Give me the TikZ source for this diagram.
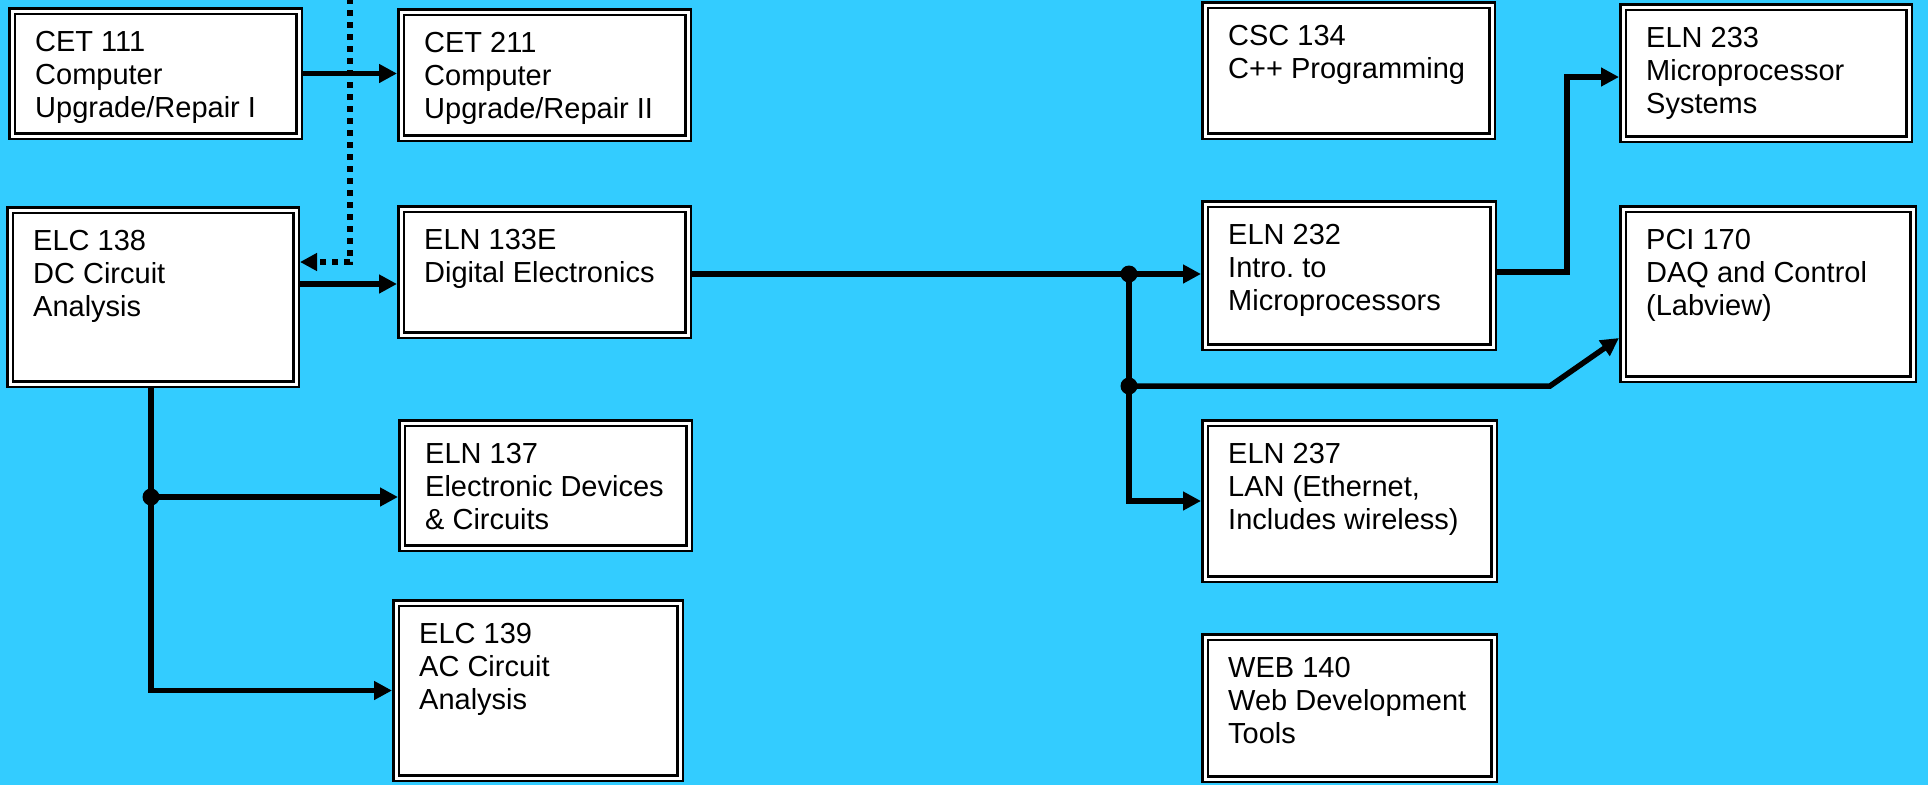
\documentclass[tikz,border=0pt]{standalone}
\usepackage{fontspec}
\setmainfont{Liberation Sans}
\usetikzlibrary{arrows.meta}
\definecolor{bgcyan}{RGB}{51,204,255}
\frenchspacing
\tikzset{
  cbox/.style={draw=black, fill=white, line width=2.5pt, double=white, double distance=3pt, inner sep=0pt, outer sep=4pt},
  ctext/.style={anchor=base west, inner sep=0pt, font=\fontsize{29}{33}\selectfont},
  conn/.style={line width=5.5pt, line join=miter, -{Triangle[length=18pt,width=18pt]}},
  dotline/.style={line width=5.5pt, dash pattern=on 6pt off 6pt, -{Triangle[length=17pt,width=17pt]}},
  junction/.style={fill=black}
}
\newcommand\course[6]{%
  \node[cbox, minimum width={#4-#2-8}, minimum height={#5-#3-8}] (#1) at ({(#2+#4)/2},{(#3+#5)/2}) {};
  \node[ctext] (#1-t) at ({#2+27},{#3+44}) {\begin{tabular}[t]{@{}l@{}}#6\end{tabular}};
}
\begin{document}
\begin{tikzpicture}[x=1pt,y=-1pt]
\fill[bgcyan] (0,0) rectangle (1928,785);
\useasboundingbox (0,0) rectangle (1928,785);

\course{cet111}{8}{7}{303}{140}{CET 111\\Computer\\Upgrade/Repair I}
\course{cet211}{397}{8}{692}{142}{CET 211\\Computer\\Upgrade/Repair II}
\course{elc138}{6}{206}{300}{388}{ELC 138\\DC Circuit\\Analysis}
\course{eln133e}{397}{205}{692}{339}{ELN 133E\\Digital Electronics}
\course{eln137}{398}{419}{693}{552}{ELN 137\\Electronic Devices\\\& Circuits}
\course{elc139}{392}{599}{684}{782}{ELC 139\\AC Circuit\\Analysis}
\course{csc134}{1201}{1}{1496}{140}{CSC 134\\C++ Programming}
\course{eln232}{1201}{200}{1497}{351}{ELN 232\\Intro. to\\Microprocessors}
\course{eln237}{1201}{419}{1498}{583}{ELN 237\\LAN (Ethernet,\\Includes wireless)}
\course{web140}{1201}{633}{1498}{783}{WEB 140\\Web Development\\Tools}
\course{eln233}{1619}{3}{1913}{143}{ELN 233\\Microprocessor\\Systems}
\course{pci170}{1619}{205}{1917}{383}{PCI 170\\DAQ and Control\\(Labview)}

\coordinate (top) at (350,-2);
\coordinate (dturn) at (350,262);
\coordinate (a284) at (0,284);
\coordinate (dotC) at (151,497);
\coordinate (dotA) at (1129,274);
\coordinate (dotB) at (1129,386);
\coordinate (kink) at (1550,386);
\coordinate (a338) at (0,338);
\coordinate (riser) at (1567,272);
\coordinate (a77) at (0,77);

% connectors
\draw[conn] (cet111.east) -- (cet211.west |- cet111.east);
\draw[dotline] (top) -- (dturn) -- (dturn -| elc138.east);
\draw[conn] (elc138.east |- a284) -- (eln133e.west |- a284);
\draw[conn] (elc138.south -| dotC) -- (dotC |- elc139.west) -- (elc139.west);
\draw[conn] (dotC) -- (dotC -| eln137.west);
\draw[conn] (eln133e.east |- dotA) -- (dotA) -- (dotA -| eln232.west);
\draw[conn] (dotA) -- (dotA |- eln237.west) -- (eln237.west);
\draw[conn] (dotB) -- (kink) -- (pci170.west |- a338);
\draw[conn] (eln232.east |- riser) -- (riser) -- (riser |- a77) -- (eln233.west |- a77);

\fill[junction] (dotA) circle (8.5);
\fill[junction] (dotB) circle (8.5);
\fill[junction] (dotC) circle (8.5);
\end{tikzpicture}
\end{document}
